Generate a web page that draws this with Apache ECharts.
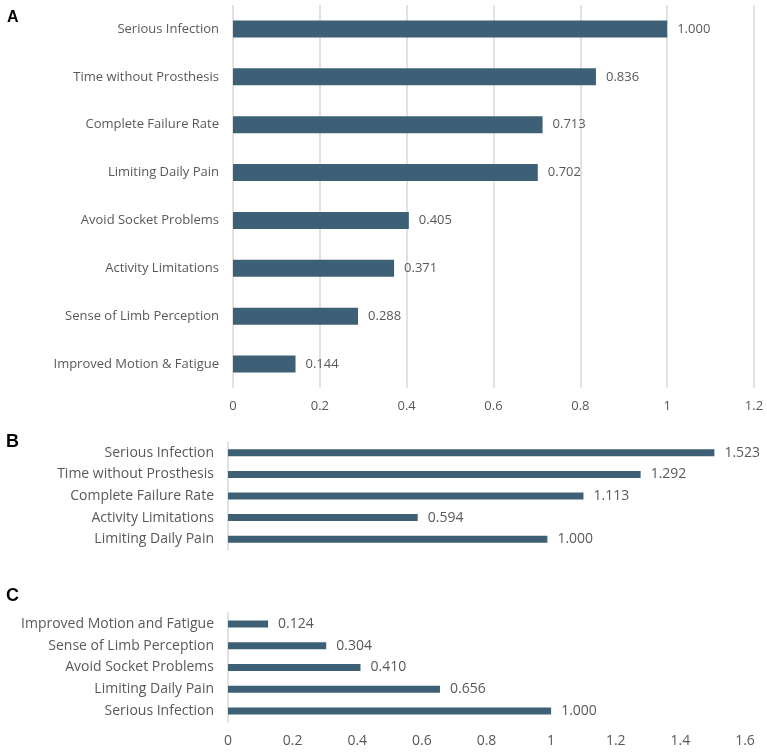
<!DOCTYPE html>
<html>
<head>
<meta charset="utf-8">
<script src="https://cdn.jsdelivr.net/npm/echarts@6/dist/echarts.min.js"></script>
<style>
  html, body { margin: 0; padding: 0; background: #fff; }
  #chart { width: 767px; height: 753px; }
</style>
</head>
<body>
<div id="chart"></div>
<script>
// panel A: weights of all attributes
const catsA = ['Serious Infection', 'Time without Prosthesis', 'Complete Failure Rate', 'Limiting Daily Pain',
  'Avoid Socket Problems', 'Activity Limitations', 'Sense of Limb Perception', 'Improved Motion & Fatigue'];
const valsA = [1.000, 0.836, 0.713, 0.702, 0.405, 0.371, 0.288, 0.144];
const ticksA = [0, 0.2, 0.4, 0.6, 0.8, 1, 1.2];

// panel B
const catsB = ['Serious Infection', 'Time without Prosthesis', 'Complete Failure Rate', 'Activity Limitations', 'Limiting Daily Pain'];
const valsB = [1.523, 1.292, 1.113, 0.594, 1.000];

// panel C
const catsC = ['Improved Motion and Fatigue', 'Sense of Limb Perception', 'Avoid Socket Problems', 'Limiting Daily Pain', 'Serious Infection'];
const valsC = [0.124, 0.304, 0.410, 0.656, 1.000];
const ticksC = [0, 0.2, 0.4, 0.6, 0.8, 1, 1.2, 1.4, 1.6];

const FONT = 'Open Sans';
const GRAY = '#595959';
const BAR = '#3e6076';
const GRID = '#d9d9d9';

const chart = echarts.init(document.getElementById('chart'));

// 数值标签 三位小数
const valLabel = (size) => ({
  show: true,
  position: 'right',
  distance: 10,
  color: GRAY,
  fontFamily: FONT,
  fontSize: size,
  formatter: p => p.value.toFixed(3)
});

const catAxis = (idx, cats, size, showLine) => ({
  type: 'category',
  gridIndex: idx,
  data: cats,
  inverse: true,
  axisLine: { show: showLine, lineStyle: { color: GRID, width: 1.5 } },
  axisTick: { show: false },
  axisLabel: { color: GRAY, fontFamily: FONT, fontSize: size, margin: 14 }
});

chart.setOption({
  animation: false,
  backgroundColor: '#fff',
  graphic: [
    { type: 'text', left: 7, top: 10, style: { text: 'A', fontSize: 16, fontWeight: 'bold', fontFamily: 'Liberation Sans', fill: '#000' } },
    { type: 'text', left: 6, top: 433, style: { text: 'B', fontSize: 18, fontWeight: 'bold', fontFamily: 'Liberation Sans', fill: '#000' } },
    { type: 'text', left: 6, top: 587, style: { text: 'C', fontSize: 18, fontWeight: 'bold', fontFamily: 'Liberation Sans', fill: '#000' } }
  ],
  grid: [
    { left: 233, right: 13, top: 5, height: 383 },
    { left: 228, right: 28, top: 442, height: 108 },
    { left: 228, right: 22, top: 613, height: 109 }
  ],
  xAxis: [
    {
      type: 'value', gridIndex: 0,
      min: ticksA[0], max: ticksA[ticksA.length - 1], interval: 0.2,
      axisLine: { show: false }, axisTick: { show: false },
      splitLine: { show: true, lineStyle: { color: GRID, width: 1.5 } },
      axisLabel: { color: GRAY, fontFamily: FONT, fontSize: 13, margin: 12 }
    },
    {
      type: 'value', gridIndex: 1, min: 0, max: 1.6, show: false
    },
    {
      type: 'value', gridIndex: 2,
      min: ticksC[0], max: ticksC[ticksC.length - 1], interval: 0.2,
      axisLine: { show: false }, axisTick: { show: false },
      splitLine: { show: false },
      axisLabel: { color: GRAY, fontFamily: FONT, fontSize: 14, margin: 12 }
    }
  ],
  yAxis: [
    catAxis(0, catsA, 13, false),
    catAxis(1, catsB, 14, true),
    catAxis(2, catsC, 14, true)
  ],
  series: [
    { type: 'bar', xAxisIndex: 0, yAxisIndex: 0, data: valsA, barWidth: 17,
      itemStyle: { color: BAR }, label: valLabel(13) },
    { type: 'bar', xAxisIndex: 1, yAxisIndex: 1, data: valsB, barWidth: 7,
      itemStyle: { color: BAR }, label: valLabel(14) },
    { type: 'bar', xAxisIndex: 2, yAxisIndex: 2, data: valsC, barWidth: 7,
      itemStyle: { color: BAR }, label: valLabel(14) }
  ]
});
</script>
</body>
</html>
